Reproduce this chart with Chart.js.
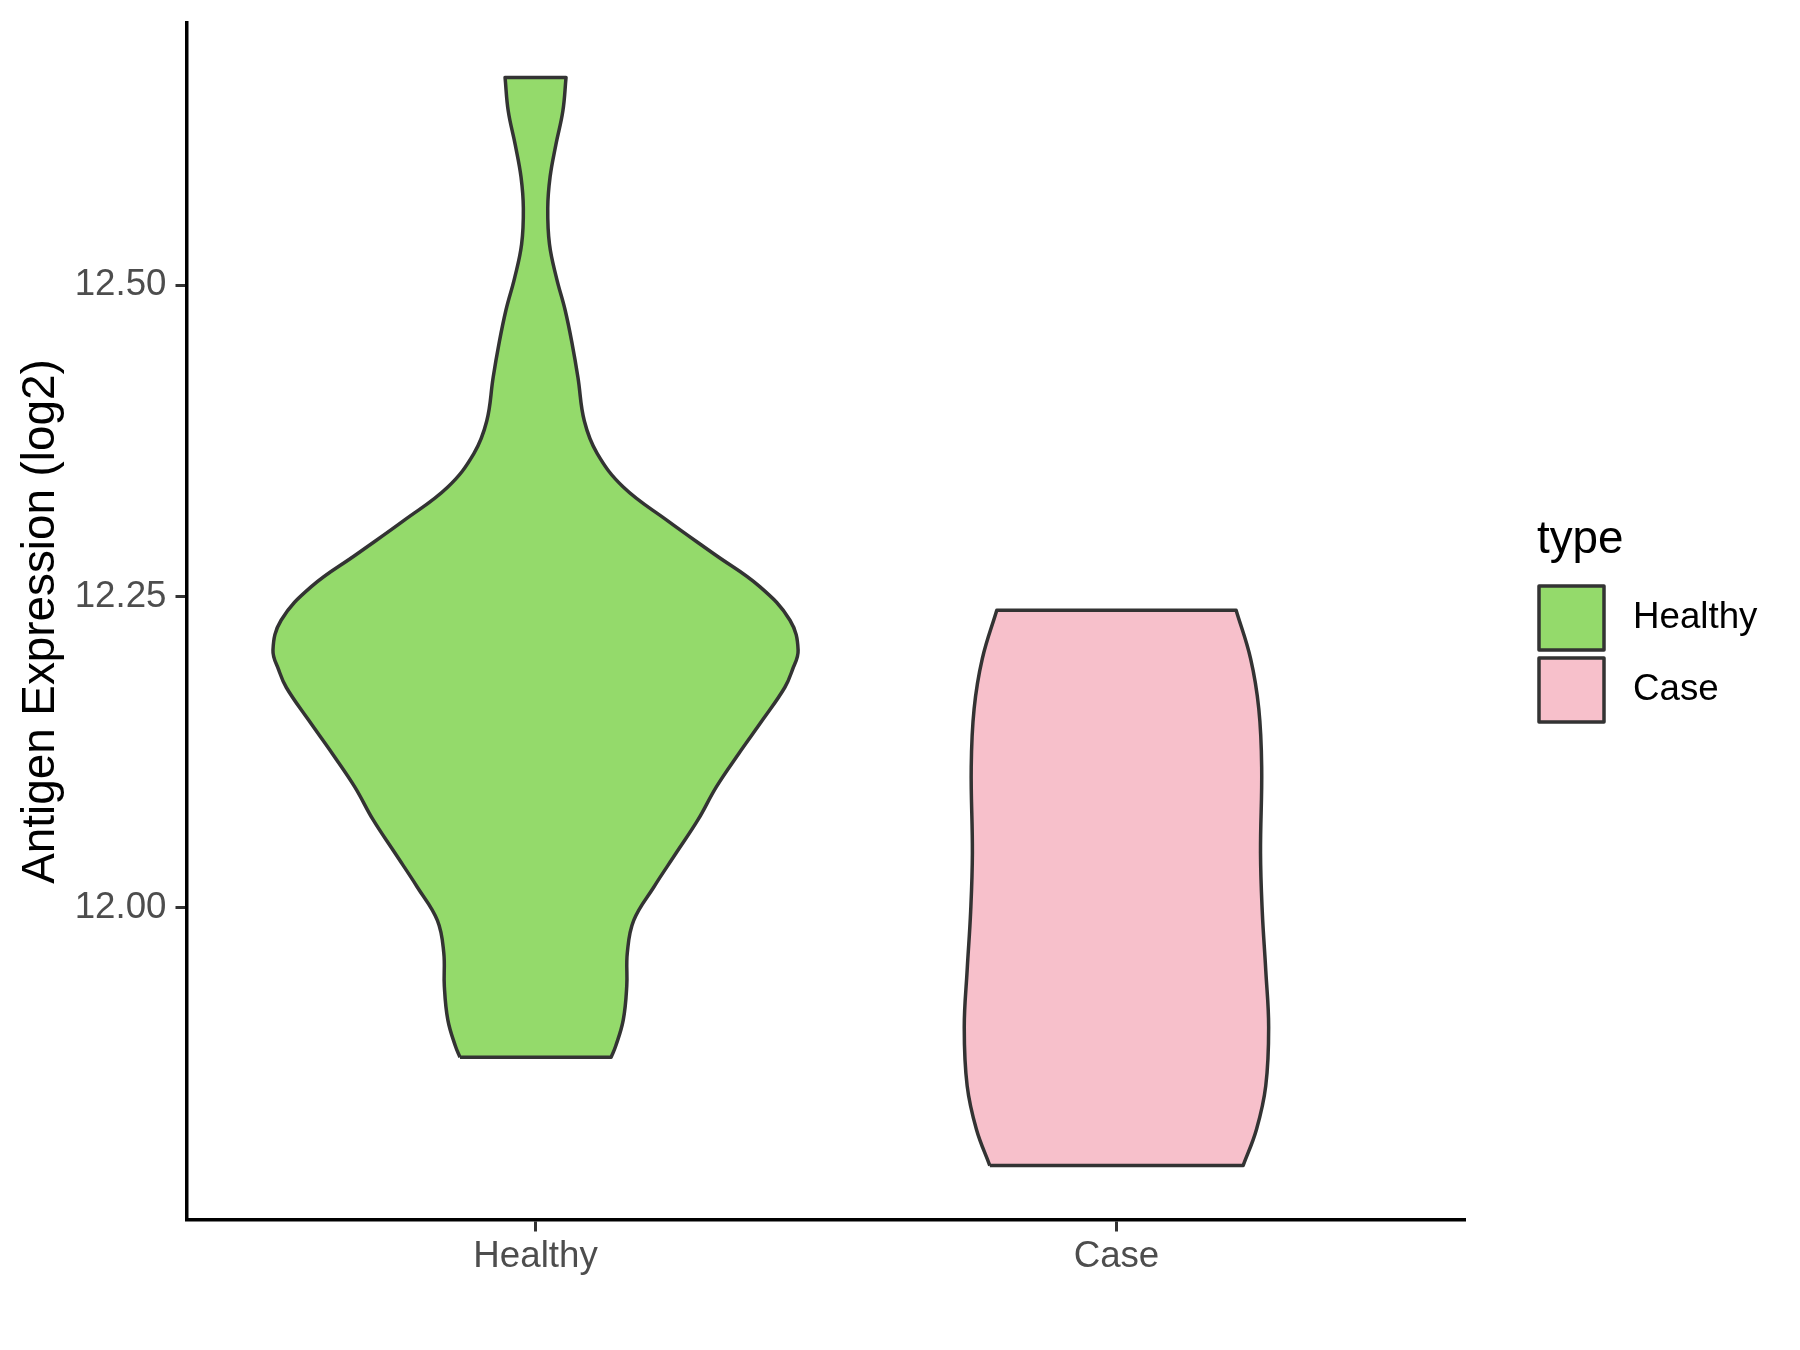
<!DOCTYPE html>
<html lang="en">
<head>
<meta charset="utf-8">
<title>Antigen Expression (log2)</title>
<script src="https://cdn.jsdelivr.net/npm/chart.js@4"></script>
<style>
    html, body { margin: 0; padding: 0; background: #ffffff; }
    #grafico-violino { display: block; }
</style>
</head>
<body>
<canvas id="grafico-violino" width="1800" height="1350"></canvas>
<script>
// categorias do eixo x (uma por violino)
const categorias = ['Healthy', 'Case'];

// perfil de cada violino:
// nível = valor no eixo y (log2), meiaLargura = metade da largura em unidades do eixo x
const healthyNivel = [11.880, 11.889, 11.910, 11.937, 11.964, 11.990, 12.017, 12.044, 12.071, 12.097,
                      12.124, 12.151, 12.177, 12.191, 12.207, 12.231, 12.258, 12.284, 12.311, 12.338,
                      12.365, 12.391, 12.426, 12.453, 12.480, 12.506, 12.533, 12.562, 12.587, 12.613,
                      12.640, 12.667];
const healthyMeiaLargura = [0.130, 0.138, 0.151, 0.157, 0.158, 0.169, 0.204, 0.242, 0.280, 0.311,
                            0.350, 0.391, 0.429, 0.442, 0.452, 0.438, 0.386, 0.308, 0.227, 0.151,
                            0.106, 0.084, 0.073, 0.063, 0.051, 0.036, 0.024, 0.021, 0.025, 0.035,
                            0.047, 0.0525];

const caseNivel = [11.793, 11.822, 11.857, 11.904, 11.950, 11.997, 12.044, 12.113, 12.160, 12.200, 12.239];
const caseMeiaLargura = [0.218, 0.241, 0.257, 0.262, 0.257, 0.251, 0.248, 0.250, 0.245, 0.231, 0.206];

// ticks do eixo y
const ticksY = [12.00, 12.25, 12.50];

const niveis = [healthyNivel, caseNivel];
const larguras = [healthyMeiaLargura, caseMeiaLargura];

const coresPreenchimento = ['#94DA6B', '#F7C0CB'];
const corContorno = '#333333';
const FONTE = "'Liberation Sans', Arial, sans-serif";


// monta o contorno fechado: sobe pelo lado esquerdo e desce pelo direito
// (os cantos vão duplicados para a curva não arredondar as bordas retas)
function contornoViolino(centro, nivel, meiaLargura) {
    const pontos = [];
    const n = nivel.length;

    for (let i = 0; i < n; i++) {
        const p = { x: centro - meiaLargura[i], y: nivel[i] };
        pontos.push(p);
        if (i === 0 || i === n - 1) pontos.push(p);
    }
    for (let i = n - 1; i >= 0; i--) {
        const p = { x: centro + meiaLargura[i], y: nivel[i] };
        pontos.push(p);
        if (i === 0 || i === n - 1) pontos.push(p);
    }
    pontos.push(pontos[0]);
    return pontos;
}

// limites do eixo y com a expansão de 5% do ggplot
const todosNiveis = niveis.flat();
const yMinDados = Math.min(...todosNiveis);
const yMaxDados = Math.max(...todosNiveis);
const folga = (yMaxDados - yMinDados) * 0.05;

// tira a folga que o Chart.js reserva para os rótulos nas pontas dos eixos
function semFolgaRotulos(eixo) {
    eixo.paddingTop = 0;
    eixo.paddingBottom = 0;
    eixo.paddingLeft = 0;
    eixo.paddingRight = 0;
}


// legenda "type" desenhada à direita do gráfico
const legendaTipo = {
    id: 'legendaTipo',
    afterDraw(chart) {
        const ctx = chart.ctx;
        const x0 = chart.chartArea.right + 72;

        ctx.save();
        ctx.fillStyle = '#000000';
        ctx.font = `45.8px ${FONTE}`;
        ctx.textAlign = 'left';
        ctx.textBaseline = 'alphabetic';
        ctx.fillText('type', x0, 553);

        categorias.forEach((nome, i) => {
            const topo = 586 + i * 72;
            ctx.fillStyle = coresPreenchimento[i];
            ctx.fillRect(x0 + 2, topo, 65, 64);
            ctx.strokeStyle = corContorno;
            ctx.lineWidth = 3.5;
            ctx.lineJoin = 'round';
            ctx.strokeRect(x0 + 2, topo, 65, 64);

            ctx.fillStyle = '#000000';
            ctx.font = `36.7px ${FONTE}`;
            ctx.textBaseline = 'middle';
            ctx.fillText(nome, x0 + 96, topo + 32);
        });
        ctx.restore();
    }
};


const graficoViolino = document.getElementById('grafico-violino');

const chart = new Chart(graficoViolino, {
    type: 'line',

    data: {
        datasets: categorias.map((nome, i) => ({
            label: nome,
            data: contornoViolino(i + 1, niveis[i], larguras[i]),
            backgroundColor: coresPreenchimento[i],
            borderColor: corContorno,
            borderWidth: 3.5,
            borderJoinStyle: 'round',
            fill: 'shape',
            tension: 0.4,
            pointRadius: 0,
            pointHoverRadius: 0
        }))
    },

    options: {
        responsive: false,
        animation: false,
        events: [],

        layout: {
            padding: { top: 23, right: 335, bottom: 0, left: 0 }
        },

        plugins: {
            legend: { display: false },
            tooltip: { enabled: false }
        },

        scales: {
            x: {
                type: 'linear',
                min: 0.4,
                max: 2.6,
                afterBuildTicks: (eixo) => {
                    eixo.ticks = categorias.map((_, i) => ({ value: i + 1 }));
                },
                afterFit: (eixo) => {
                    eixo.height = 130;
                    semFolgaRotulos(eixo);
                },
                ticks: {
                    callback: (valor) => categorias[valor - 1],
                    autoSkip: false,
                    maxRotation: 0,
                    padding: 3,
                    color: '#4D4D4D',
                    font: { family: FONTE, size: 36.7 }
                },
                grid: {
                    display: true,
                    drawOnChartArea: false,
                    drawTicks: true,
                    tickLength: 11.5,
                    tickWidth: 3,
                    tickColor: '#333333'
                },
                border: { display: true, color: '#000000', width: 3.5 }
            },

            y: {
                type: 'linear',
                min: yMinDados - folga,
                max: yMaxDados + folga,
                afterBuildTicks: (eixo) => {
                    eixo.ticks = ticksY.map(v => ({ value: v }));
                },
                afterFit: (eixo) => {
                    eixo.width = 187;
                    semFolgaRotulos(eixo);
                },
                ticks: {
                    callback: (valor) => Number(valor).toFixed(2),
                    padding: 9,
                    color: '#4D4D4D',
                    font: { family: FONTE, size: 36.7 }
                },
                grid: {
                    display: true,
                    drawOnChartArea: false,
                    drawTicks: true,
                    tickLength: 11.5,
                    tickWidth: 3,
                    tickColor: '#333333'
                },
                border: { display: true, color: '#000000', width: 3.5 },
                title: {
                    display: true,
                    text: 'Antigen Expression (log2)',
                    color: '#000000',
                    font: { family: FONTE, size: 45.8 },
                    padding: { top: 14, bottom: 0 }
                }
            }
        }
    },

    plugins: [legendaTipo]
});
</script>
</body>
</html>
